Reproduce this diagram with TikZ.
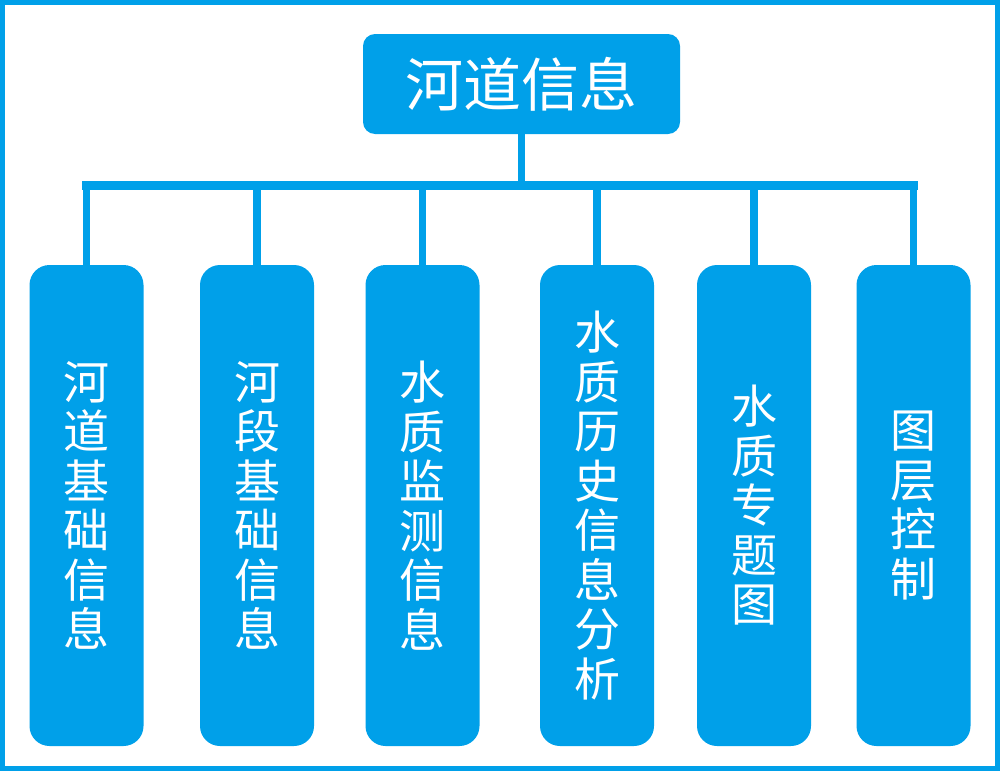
\documentclass[tikz,border=0pt]{standalone}
\usepackage{fontspec}
\newfontfamily\cjk{Noto Sans CJK SC}
\definecolor{hblue}{RGB}{0,160,233}
\begin{document}
\begin{tikzpicture}[x=1pt,y=-1pt,
  topbox/.style={fill=hblue,draw=none,rounded corners=12pt,minimum width=317pt,minimum height=100pt,inner sep=0pt,text=white,font=\cjk\fontsize{58}{60}\selectfont},
  leafbox/.style={fill=hblue,draw=none,rounded corners=20pt,minimum width=114pt,minimum height=481pt,inner sep=0pt,text=white,align=center,font=\cjk\fontsize{46}{49.5}\selectfont},
  link/.style={draw=hblue,line width=7.5pt},
  barline/.style={draw=hblue,line width=9pt,line cap=rect}]
\useasboundingbox (0,0) rectangle (1000,771);
\draw[hblue,line width=4.6pt] (2.3,2.3) rectangle (997.7,768.7);
\node[topbox] (top) at (521.5,84) {河道信息};
\node[leafbox] (b1) at (86.5,505.5) {河\\道\\基\\础\\信\\息};
\node[leafbox] (b2) at (257,505.5) {河\\段\\基\\础\\信\\息};
\node[leafbox] (b3) at (422.5,505.5) {水\\质\\监\\测\\信\\息};
\node[leafbox] (b4) at (597,505.5) {水\\质\\历\\史\\信\\息\\分\\析};
\node[leafbox] (b5) at (754,505.5) {水\\质\\专\\题\\图};
\node[leafbox] (b6) at (913.5,505.5) {图\\层\\控\\制};
\coordinate (bar) at (0,185.5);
\draw[barline] (b1.north |- bar) -- (b6.north |- bar);
\draw[link] (top.south) -- (top.south |- bar);
\foreach \b in {b1,b2,b3,b4,b5,b6}
  \draw[link] (\b.north |- bar) -- ([yshift=-2pt]\b.north);
\end{tikzpicture}
\end{document}
